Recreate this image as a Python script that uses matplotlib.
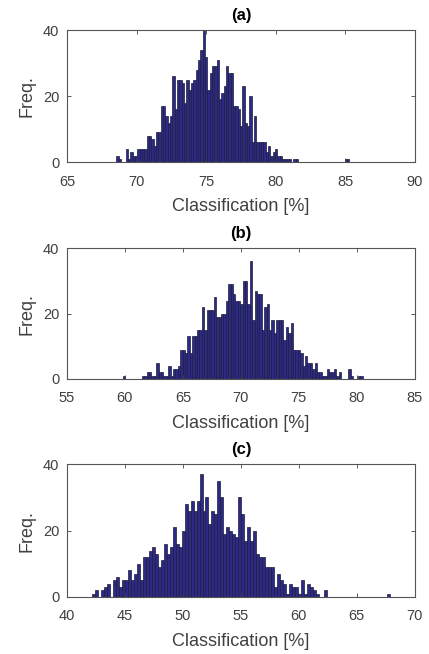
import numpy as np
import matplotlib
matplotlib.use('Agg')
import matplotlib.pyplot as plt

plt.rcParams['font.family'] = ['Liberation Sans', 'DejaVu Sans']

# counts of the 100 bins of each histogram
cuentas_a = [2, 1, 0, 0, 4, 1, 3, 2, 2, 4, 4, 4, 4, 8, 8, 7, 5, 9, 9, 17,
             17, 14, 12, 14, 26, 16, 25, 25, 24, 18, 25, 22, 24, 25, 28, 31, 34, 40, 32, 22,
             27, 29, 29, 31, 19, 21, 23, 29, 27, 27, 17, 17, 16, 11, 23, 12, 11, 20, 6, 14,
             6, 6, 6, 6, 3, 5, 2, 3, 4, 2, 2, 1, 1, 1, 1, 0, 1, 1, 0, 0,
             0, 0, 0, 0, 0, 0, 0, 0, 0, 0, 0, 0, 0, 0, 0, 0, 0, 0, 1, 1]
cuentas_b = [1, 0, 0, 0, 0, 0, 0, 0, 1, 1, 2, 2, 1, 1, 5, 2, 2, 1, 1, 4,
             1, 3, 3, 4, 9, 9, 8, 13, 8, 13, 13, 15, 15, 22, 15, 21, 21, 21, 25, 19,
             19, 20, 20, 24, 29, 29, 26, 24, 24, 23, 30, 30, 23, 36, 18, 27, 26, 26, 15, 22,
             23, 15, 18, 14, 18, 18, 18, 12, 16, 14, 17, 9, 9, 9, 8, 4, 7, 5, 5, 3,
             5, 2, 2, 1, 1, 3, 2, 2, 3, 1, 2, 0, 0, 0, 3, 1, 0, 0, 1, 1]
cuentas_c = [1, 2, 0, 2, 3, 4, 0, 5, 6, 3, 5, 5, 8, 5, 7, 10, 5, 12, 12, 14,
             15, 13, 9, 11, 16, 13, 15, 21, 16, 15, 20, 28, 26, 29, 26, 29, 37, 26, 30, 22,
             26, 25, 35, 30, 19, 21, 20, 19, 18, 30, 25, 17, 21, 17, 20, 13, 12, 12, 9, 9,
             9, 3, 7, 5, 4, 1, 4, 3, 3, 1, 5, 1, 4, 3, 2, 1, 0, 0, 2, 0,
             0, 0, 0, 0, 0, 0, 0, 0, 0, 0, 0, 0, 0, 0, 0, 0, 0, 0, 0, 1]

# min and max classification of each experiment
rango_a = (68.55, 85.3)
rango_b = (59.8, 80.5)
rango_c = (42.2, 67.85)

limites_x = [(65, 90), (55, 85), (40, 70)]
titulos = ['(a)', '(b)', '(c)']

#%%
fig = plt.figure(figsize=(4.29, 6.54), dpi=100)

posiciones = [[0.156, 0.752, 0.811, 0.202],
              [0.156, 0.4205, 0.811, 0.200],
              [0.156, 0.0872, 0.811, 0.203]]

gris = '#404040'
datos = [(cuentas_a, rango_a), (cuentas_b, rango_b), (cuentas_c, rango_c)]

for i, (cuentas, rango) in enumerate(datos):
    ax = fig.add_axes(posiciones[i])
    bordes = np.linspace(rango[0], rango[1], len(cuentas) + 1)
    ax.bar(bordes[:-1], cuentas, width=np.diff(bordes), align='edge',
           color='#2c2a84', edgecolor='#1c1c3c', linewidth=0.5)
    ax.set_xlim(limites_x[i])
    ax.set_ylim(0, 40)
    ax.set_yticks([0, 20, 40])
    ax.set_xticks(np.arange(limites_x[i][0], limites_x[i][1] + 1, 5))
    ax.tick_params(direction='in', top=True, right=True, length=3,
                   width=0.6, colors=gris, labelsize=10.5)
    ax.tick_params(axis='x', pad=9)
    ax.tick_params(axis='y', pad=5.5)
    for lado in ax.spines.values():
        lado.set_color('#555555')
        lado.set_linewidth(0.8)
    ax.set_xlabel('Classification [%]', fontsize=13, color=gris, labelpad=7)
    ax.set_ylabel('Freq.', fontsize=13, color=gris, labelpad=5)
    ax.set_title(titulos[i], fontsize=12, fontweight='bold', pad=7)

plt.savefig('out.png', dpi=100)
